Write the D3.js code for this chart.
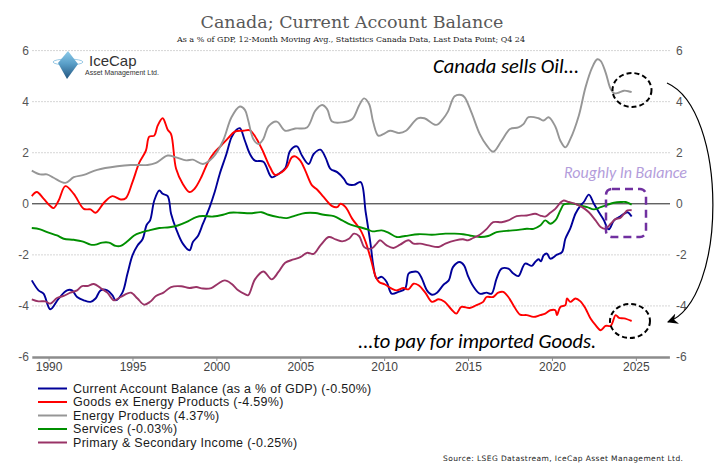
<!DOCTYPE html>
<html>
<head>
<meta charset="utf-8">
<script src="https://cdn.jsdelivr.net/npm/d3@7"></script>
<style>
  body { margin: 0; background: #fff; }
  svg { display: block; }
</style>
</head>
<body>
<div id="chart"></div>
<script>
// Canada current account balance, components as % of GDP

const width = 721;
const height = 473;

// data: [year, value]
const caBalance = [[1989.0,-3.0],[1989.4,-3.39],[1989.7,-3.52],[1990.1,-4.13],[1990.6,-3.71],[1991.1,-3.39],[1991.4,-3.39],[1991.7,-3.65],[1992.1,-3.78],[1992.5,-3.84],[1992.8,-3.71],[1993.1,-3.39],[1993.5,-3.39],[1993.8,-3.58],[1994.0,-3.78],[1994.4,-3.48],[1994.7,-2.74],[1995.0,-2.02],[1995.3,-1.63],[1995.6,-1.39],[1995.85,-0.82],[1996.05,-0.65],[1996.3,0.13],[1996.6,0.52],[1996.8,0.39],[1997.1,0.30],[1997.3,-0.39],[1997.6,-0.98],[1998.0,-1.56],[1998.4,-1.82],[1998.6,-1.50],[1998.9,-1.26],[1999.2,-0.78],[1999.6,-0.13],[1999.9,0.46],[2000.2,1.17],[2000.6,1.95],[2000.9,2.60],[2001.2,2.90],[2001.4,2.96],[2001.7,2.47],[2002.0,1.95],[2002.3,1.69],[2002.8,1.65],[2003.3,1.04],[2003.7,1.17],[2004.1,1.39],[2004.4,2.08],[2004.8,2.25],[2005.1,1.89],[2005.5,1.56],[2005.8,1.95],[2006.2,2.12],[2006.5,1.82],[2006.8,1.37],[2007.2,1.24],[2007.6,0.98],[2007.8,0.78],[2008.2,0.74],[2008.6,0.85],[2008.9,-0.33],[2009.2,-1.63],[2009.35,-2.41],[2009.55,-2.93],[2009.85,-2.86],[2010.15,-3.06],[2010.45,-3.52],[2010.85,-3.45],[2011.25,-3.32],[2011.45,-2.74],[2011.65,-2.67],[2012.0,-2.67],[2012.25,-2.93],[2012.55,-3.39],[2012.85,-3.56],[2013.15,-3.48],[2013.55,-3.16],[2013.85,-3.0],[2014.1,-2.48],[2014.5,-2.28],[2014.76,-2.41],[2015.0,-2.83],[2015.3,-3.22],[2015.7,-3.52],[2016.1,-3.48],[2016.4,-3.52],[2016.7,-2.93],[2017.0,-2.54],[2017.4,-2.54],[2017.7,-2.73],[2018.0,-2.83],[2018.4,-2.34],[2018.8,-2.43],[2019.0,-2.28],[2019.2,-2.17],[2019.35,-2.25],[2019.5,-2.02],[2019.7,-1.95],[2019.9,-2.15],[2020.3,-1.99],[2020.6,-1.89],[2020.8,-1.37],[2021.1,-0.95],[2021.4,-0.39],[2021.7,-0.07],[2021.9,0.07],[2022.2,0.36],[2022.5,0.0],[2022.8,-0.33],[2023.1,-0.65],[2023.3,-0.95],[2023.4,-1.0],[2023.7,-0.65],[2024.0,-0.52],[2024.3,-0.39],[2024.5,-0.33],[2024.75,-0.50]];

const goodsExEnergy = [[1989.0,0.30],[1989.3,0.46],[1989.7,0.20],[1990.1,-0.09],[1990.3,-0.17],[1990.6,0.13],[1991.0,0.69],[1991.5,0.39],[1992.1,-0.20],[1992.5,-0.22],[1992.8,-0.35],[1993.3,0.04],[1993.8,0.30],[1994.3,0.17],[1994.6,0.22],[1995.0,0.85],[1995.4,1.60],[1995.8,2.08],[1996.0,2.63],[1996.3,2.67],[1996.5,3.06],[1996.8,3.35],[1997.1,2.90],[1997.3,2.73],[1997.6,1.37],[1998.0,0.78],[1998.4,0.46],[1998.7,0.59],[1999.1,1.04],[1999.5,1.63],[1999.9,2.02],[2000.3,2.29],[2000.7,2.57],[2001.1,2.83],[2001.6,2.86],[2002.0,2.88],[2002.4,2.54],[2002.8,2.02],[2003.2,1.43],[2003.5,1.13],[2003.9,1.24],[2004.2,1.43],[2004.5,1.82],[2004.7,1.86],[2005.0,1.69],[2005.3,1.30],[2005.7,0.72],[2006.0,0.56],[2006.4,0.26],[2006.9,-0.09],[2007.2,-0.13],[2007.4,0.0],[2007.7,-0.13],[2008.1,-0.59],[2008.6,-1.04],[2008.9,-1.50],[2009.2,-2.15],[2009.5,-2.86],[2009.7,-3.06],[2010.05,-3.16],[2010.45,-3.32],[2010.75,-3.39],[2011.15,-3.30],[2011.45,-3.35],[2011.75,-3.13],[2012.05,-3.19],[2012.45,-3.48],[2012.85,-3.84],[2013.25,-3.74],[2013.6,-3.84],[2014.0,-4.13],[2014.3,-4.30],[2014.6,-4.04],[2015.1,-4.08],[2015.5,-3.97],[2015.9,-3.84],[2016.1,-3.65],[2016.5,-3.65],[2016.8,-3.48],[2017.1,-3.45],[2017.4,-3.65],[2017.7,-3.97],[2018.1,-4.34],[2018.5,-4.36],[2018.9,-4.43],[2019.3,-4.36],[2019.6,-4.30],[2019.9,-4.17],[2020.2,-4.17],[2020.3,-4.36],[2020.5,-4.04],[2020.8,-3.97],[2020.9,-3.71],[2021.1,-3.84],[2021.4,-3.71],[2021.7,-3.82],[2022.0,-4.10],[2022.3,-4.49],[2022.6,-4.75],[2022.9,-4.95],[2023.2,-4.78],[2023.5,-4.78],[2023.8,-4.36],[2024.0,-4.47],[2024.3,-4.49],[2024.75,-4.59]];

const energyProducts = [[1989.0,1.30],[1989.5,1.15],[1989.9,1.15],[1990.3,1.02],[1991.0,0.82],[1991.5,1.04],[1992.1,1.13],[1992.9,1.33],[1994.1,1.47],[1994.9,1.52],[1995.9,1.52],[1996.4,1.60],[1997.1,1.89],[1997.6,1.82],[1998.2,1.70],[1998.6,1.73],[1999.2,1.56],[1999.8,1.82],[2000.4,2.47],[2000.9,3.39],[2001.4,3.81],[2001.7,3.68],[2001.9,3.26],[2002.2,2.54],[2002.5,2.34],[2002.8,2.54],[2003.1,3.03],[2003.6,3.22],[2004.1,2.86],[2004.7,2.95],[2005.4,2.99],[2005.9,3.65],[2006.3,3.87],[2006.6,3.71],[2006.9,3.22],[2007.5,3.19],[2008.1,3.32],[2008.5,3.84],[2008.8,4.13],[2009.1,3.91],[2009.35,3.19],[2009.65,2.67],[2009.95,2.73],[2010.35,2.86],[2010.9,2.77],[2011.3,2.86],[2012.0,3.35],[2012.4,3.35],[2013.1,3.09],[2013.5,3.32],[2013.8,3.61],[2014.2,4.21],[2014.6,4.26],[2014.8,4.17],[2015.2,3.58],[2015.7,2.73],[2016.1,2.30],[2016.5,2.04],[2017.0,2.47],[2017.5,2.93],[2018.0,2.99],[2018.3,3.12],[2018.6,3.39],[2019.2,3.35],[2019.5,3.26],[2019.8,3.39],[2020.2,3.03],[2020.5,2.47],[2020.8,2.21],[2021.1,2.54],[2021.6,3.45],[2022.0,4.56],[2022.4,5.34],[2022.7,5.66],[2022.9,5.60],[2023.2,5.14],[2023.5,4.49],[2023.7,4.33],[2024.0,4.36],[2024.3,4.43],[2024.6,4.40],[2024.75,4.37]];

const services = [[1989.0,-0.95],[1989.5,-1.0],[1990.0,-1.13],[1990.5,-1.24],[1990.9,-1.37],[1991.5,-1.41],[1992.0,-1.47],[1992.5,-1.60],[1992.8,-1.60],[1993.2,-1.52],[1993.6,-1.52],[1994.0,-1.65],[1994.3,-1.65],[1994.7,-1.47],[1995.1,-1.24],[1995.5,-1.13],[1996.0,-1.04],[1996.6,-0.95],[1997.2,-0.92],[1997.7,-0.85],[1998.2,-0.72],[1998.8,-0.52],[1999.2,-0.48],[1999.8,-0.50],[2000.4,-0.43],[2000.8,-0.35],[2001.4,-0.35],[2002.0,-0.37],[2002.7,-0.33],[2003.1,-0.43],[2003.7,-0.52],[2004.2,-0.56],[2004.7,-0.46],[2005.3,-0.36],[2005.9,-0.36],[2006.4,-0.43],[2007.0,-0.48],[2007.5,-0.65],[2008.0,-0.82],[2008.5,-0.91],[2009.0,-1.00],[2009.3,-1.08],[2009.85,-1.04],[2010.25,-1.13],[2010.75,-1.30],[2011.25,-1.26],[2012.05,-1.19],[2012.85,-1.21],[2013.65,-1.17],[2014.2,-1.17],[2014.7,-1.19],[2015.1,-1.24],[2015.7,-1.30],[2016.2,-1.26],[2016.7,-1.11],[2017.3,-1.06],[2018.0,-1.02],[2018.5,-0.98],[2018.9,-0.98],[2019.3,-0.85],[2019.6,-0.65],[2019.9,-0.78],[2020.2,-0.65],[2020.5,-0.26],[2020.7,-0.03],[2020.9,0.0],[2021.3,0.0],[2021.7,-0.07],[2022.1,-0.13],[2022.5,-0.22],[2022.9,-0.13],[2023.3,-0.04],[2023.7,0.04],[2024.1,0.07],[2024.4,0.07],[2024.75,-0.03]];

const primarySecondary = [[1989.0,-3.74],[1989.4,-3.82],[1989.8,-3.82],[1990.1,-3.91],[1990.5,-3.69],[1990.9,-3.61],[1991.3,-3.48],[1991.7,-3.39],[1992.0,-3.22],[1992.3,-3.22],[1992.7,-3.14],[1993.1,-3.30],[1993.5,-3.48],[1993.9,-3.78],[1994.3,-3.65],[1994.9,-3.48],[1995.3,-3.71],[1995.7,-3.95],[1996.05,-3.84],[1996.4,-3.61],[1996.85,-3.48],[1997.3,-3.26],[1997.9,-3.23],[1998.4,-3.30],[1998.8,-3.26],[1999.2,-3.32],[1999.7,-3.30],[2000.1,-3.13],[2000.5,-3.0],[2000.9,-3.13],[2001.3,-3.39],[2001.7,-3.54],[2001.9,-3.58],[2002.3,-2.96],[2002.8,-2.65],[2003.3,-2.96],[2003.7,-2.67],[2004.1,-2.31],[2004.6,-2.18],[2005.0,-2.09],[2005.4,-1.92],[2005.8,-1.96],[2006.2,-1.63],[2006.7,-1.30],[2007.1,-1.39],[2007.5,-1.47],[2007.9,-1.37],[2008.2,-1.17],[2008.5,-1.26],[2008.8,-1.69],[2009.0,-1.76],[2009.3,-1.73],[2009.55,-1.56],[2009.75,-1.43],[2010.15,-1.63],[2010.55,-1.73],[2010.95,-1.60],[2011.45,-1.43],[2011.75,-1.56],[2012.15,-1.56],[2012.65,-1.63],[2013.25,-1.69],[2013.65,-1.56],[2014.25,-1.43],[2014.7,-1.39],[2015.0,-1.43],[2015.3,-1.34],[2015.7,-1.21],[2016.1,-0.99],[2016.5,-0.72],[2017.0,-0.72],[2017.4,-0.65],[2017.9,-0.48],[2018.5,-0.46],[2019.0,-0.39],[2019.3,-0.46],[2019.6,-0.50],[2019.9,-0.35],[2020.2,-0.20],[2020.5,0.04],[2020.7,0.13],[2021.0,0.07],[2021.4,0.0],[2021.8,-0.13],[2022.2,-0.33],[2022.6,-0.65],[2022.9,-0.91],[2023.2,-0.98],[2023.5,-0.78],[2023.8,-0.59],[2024.05,-0.56],[2024.3,-0.39],[2024.5,-0.26],[2024.75,-0.25]];

const seriesNames = [
  "Current Account Balance (as a % of GDP) (-0.50%)",
  "Goods ex Energy Products (-4.59%)",
  "Energy Products (4.37%)",
  "Services (-0.03%)",
  "Primary & Secondary Income (-0.25%)"
];
const seriesColors = ["#000099", "#ff0000", "#969696", "#008f00", "#993366"];
const seriesData = [caBalance, goodsExEnergy, energyProducts, services, primarySecondary];

const yearTicks = [1990, 1995, 2000, 2005, 2010, 2015, 2020, 2025];
const yTicks = [-6, -4, -2, 0, 2, 4, 6];

const svg = d3.select("#chart")
  .append("svg")
  .attr("width", width)
  .attr("height", height);

svg.append("rect").attr("width", width).attr("height", height).attr("fill", "#fff");

const x = d3.scaleLinear().domain([1989, 2027]).range([31.8, 669.4]);
const y = d3.scaleLinear().domain([-6, 6]).range([357, 50.6]);

// title
svg.append("text")
  .attr("x", 352).attr("y", 28)
  .attr("text-anchor", "middle")
  .attr("font-family", "'Palatino Linotype', 'Book Antiqua', 'DejaVu Serif', serif")
  .attr("font-size", "17.5px")
  .attr("fill", "#595959")
  .text("Canada; Current Account Balance");

svg.append("text")
  .attr("x", 351).attr("y", 42)
  .attr("text-anchor", "middle")
  .attr("font-family", "'DejaVu Serif', serif")
  .attr("font-size", "8px")
  .attr("fill", "#222")
  .attr("textLength", 348)
  .text("As a % of GDP, 12-Month Moving Avg., Statistics Canada Data, Last Data Point; Q4 24");

// gridlines
svg.append("g")
  .selectAll("line")
  .data(yTicks.filter(d => d !== 0 && d !== -6))
  .join("line")
  .attr("x1", 32).attr("x2", 670)
  .attr("y1", d => y(d)).attr("y2", d => y(d))
  .attr("stroke", "#d6d6d6")
  .attr("stroke-dasharray", "2,1");

// zero line
svg.append("line")
  .attr("x1", 32).attr("x2", 670)
  .attr("y1", y(0)).attr("y2", y(0))
  .attr("stroke", "#222").attr("stroke-width", 1);

// left and right tick labels
const axisFont = "Arial, 'Liberation Sans', sans-serif";
svg.append("g")
  .selectAll("text")
  .data(yTicks)
  .join("text")
  .attr("x", 29).attr("y", d => y(d) + 4)
  .attr("text-anchor", "end")
  .attr("font-family", axisFont).attr("font-size", "12px").attr("fill", "#555")
  .text(d => d);

svg.append("g")
  .selectAll("text")
  .data(yTicks)
  .join("text")
  .attr("x", 676).attr("y", d => y(d) + 4)
  .attr("font-family", axisFont).attr("font-size", "12px").attr("fill", "#555")
  .text(d => d);

// x axis
const xAxis = svg.append("g")
  .attr("transform", `translate(0,${y(-6)})`)
  .call(d3.axisBottom(x).tickValues(yearTicks).tickSize(4).tickSizeOuter(0).tickFormat(d3.format("d")));
xAxis.select(".domain").attr("stroke", "#8c8c8c").attr("stroke-width", 2.5);
xAxis.selectAll(".tick line").attr("stroke", "#8c8c8c");
xAxis.selectAll(".tick text")
  .attr("font-family", axisFont).attr("font-size", "12px").attr("fill", "#444")
  .attr("dy", "0.6em");

// lines
const line = d3.line()
  .x(d => x(d[0]))
  .y(d => y(d[1]))
  .curve(d3.curveCatmullRom.alpha(0.5));

svg.append("g")
  .selectAll("path")
  .data(seriesData)
  .join("path")
  .attr("d", d => line(d))
  .attr("fill", "none")
  .attr("stroke", (d, i) => seriesColors[i])
  .attr("stroke-width", 1.9)
  .attr("stroke-linejoin", "round");

// logo
const defs = svg.append("defs");
const grad = defs.append("linearGradient").attr("id", "ice").attr("x1", 0).attr("y1", 0).attr("x2", 0).attr("y2", 1);
grad.append("stop").attr("offset", "0%").attr("stop-color", "#8ccbea");
grad.append("stop").attr("offset", "45%").attr("stop-color", "#5a9fc8");
grad.append("stop").attr("offset", "100%").attr("stop-color", "#23557f");

const logo = svg.append("g");
logo.append("ellipse").attr("cx", 68).attr("cy", 62).attr("rx", 15).attr("ry", 3)
  .attr("fill", "none").attr("stroke", "#9ccbe6").attr("stroke-width", 1);
logo.append("path").attr("d", "M68,51 L78,64 L67,79 L58,63 Z").attr("fill", "url(#ice)");
logo.append("text").attr("x", 89).attr("y", 66)
  .attr("font-family", axisFont).attr("font-size", "15px").attr("fill", "#333")
  .text("IceCap");
logo.append("text").attr("x", 85).attr("y", 74.5)
  .attr("font-family", axisFont).attr("font-size", "7px").attr("fill", "#333")
  .text("Asset Management Ltd.");

// annotations
const noteFont = "Carlito, Lato, 'Open Sans', sans-serif";
svg.append("text")
  .attr("x", 433).attr("y", 73)
  .attr("font-family", noteFont).attr("font-style", "italic")
  .attr("font-size", "20.5px").attr("fill", "#000")
  .text("Canada sells Oil...");

svg.append("text")
  .attr("x", 358).attr("y", 348)
  .attr("font-family", noteFont).attr("font-style", "italic")
  .attr("font-size", "20.5px").attr("fill", "#000")
  .text("...to pay for imported Goods.");

svg.append("text")
  .attr("x", 564).attr("y", 178)
  .attr("font-family", noteFont).attr("font-style", "italic")
  .attr("font-size", "16px").attr("fill", "#b39ddb")
  .text("Roughly In Balance");

svg.append("ellipse")
  .attr("cx", 632).attr("cy", 90).attr("rx", 19.5).attr("ry", 17)
  .attr("fill", "none").attr("stroke", "#000").attr("stroke-width", 2)
  .attr("stroke-dasharray", "5,3");

svg.append("ellipse")
  .attr("cx", 630).attr("cy", 321).attr("rx", 20).attr("ry", 17)
  .attr("fill", "none").attr("stroke", "#000").attr("stroke-width", 2)
  .attr("stroke-dasharray", "5,3");

svg.append("rect")
  .attr("x", 606).attr("y", 189).attr("width", 40).attr("height", 48).attr("rx", 6)
  .attr("fill", "none").attr("stroke", "#7030a0").attr("stroke-width", 2.5)
  .attr("stroke-dasharray", "8,5");

defs.append("marker")
  .attr("id", "arrow").attr("viewBox", "0 0 10 10")
  .attr("refX", 9).attr("refY", 5)
  .attr("markerWidth", 9).attr("markerHeight", 9)
  .attr("orient", "auto")
  .append("path").attr("d", "M0,0 L10,5 L0,10 L3,5 Z").attr("fill", "#000");

svg.append("path")
  .attr("d", "M667,83 C728,110 728,300 668,322")
  .attr("fill", "none").attr("stroke", "#000").attr("stroke-width", 1.2)
  .attr("marker-end", "url(#arrow)");

// legend
const legend = svg.append("g")
  .selectAll("g")
  .data(seriesNames)
  .join("g")
  .attr("transform", (d, i) => `translate(0,${388.5 + i * 13.5})`);
legend.append("line")
  .attr("x1", 38).attr("x2", 67)
  .attr("stroke", (d, i) => seriesColors[i]).attr("stroke-width", 2);
legend.append("text")
  .attr("x", 73).attr("y", 4.3)
  .attr("font-family", axisFont).attr("font-size", "12.5px").attr("fill", "#1a1a1a")
  .attr("letter-spacing", "0.3px")
  .text(d => d);

// source
svg.append("text")
  .attr("x", 443).attr("y", 461)
  .attr("font-family", "Verdana, 'DejaVu Sans', sans-serif")
  .attr("font-size", "7.5px").attr("fill", "#222")
  .attr("textLength", 240)
  .text("Source: LSEG Datastream, IceCap Asset Management Ltd.");
</script>
</body>
</html>
